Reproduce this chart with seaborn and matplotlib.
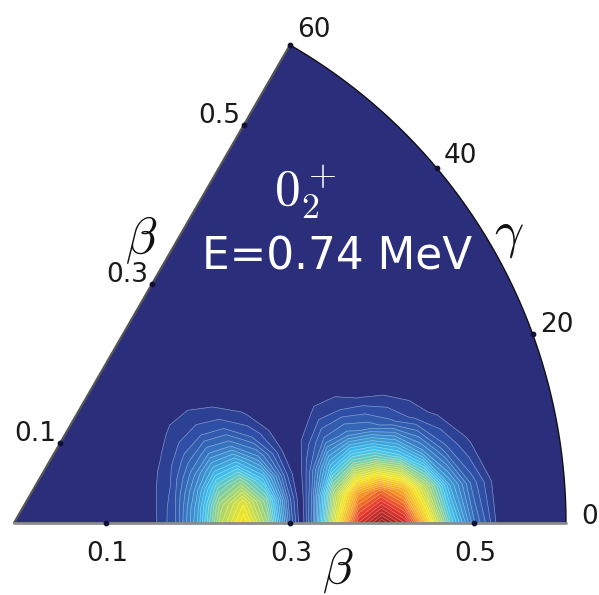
import numpy as np
import matplotlib
matplotlib.use('Agg')
import matplotlib.pyplot as plt
from matplotlib.patches import Wedge
from matplotlib.colors import LinearSegmentedColormap
import seaborn as sns

# deformation grid: beta values and gamma (degrees)
beta = [0.125, 0.15, 0.175, 0.2, 0.225, 0.25, 0.275, 0.3, 0.3125, 0.325,
        0.35, 0.375, 0.4, 0.425, 0.45, 0.475, 0.5, 0.525, 0.55]
gamma = [0, 5, 10, 15, 20, 25, 30, 35, 40, 45]

# collective wave function density (% of maximum), one row per gamma
dens_g0 = [0, 1.3, 7.0, 23.0, 47.0, 60.0, 43.0, 10.0, 0, 12.0, 55.0, 88.0, 100.0, 90.0, 62.0, 32.0, 13.0, 2.0, 0.5]
dens_g5 = [0, 1.3, 6.7, 21.6, 43.5, 54.5, 38.3, 8.7, 0, 10.2, 45.7, 71.1, 78.4, 68.4, 45.6, 22.7, 8.9, 1.3, 0.3]
dens_g10 = [0, 1.1, 5.8, 18.1, 34.6, 41.2, 27.3, 5.8, 0, 6.3, 26.3, 37.7, 38.1, 30.3, 18.3, 8.2, 2.9, 0.4, 0.1]
dens_g15 = [0, 1.0, 4.6, 13.5, 23.8, 26.0, 15.6, 3.0, 0, 2.9, 10.7, 13.4, 11.7, 8.0, 4.1, 1.6, 0.5, 0.1, 0]
dens_g20 = [0, 0.8, 3.4, 9.0, 14.4, 13.9, 7.3, 1.2, 0, 1.0, 3.1, 3.3, 2.4, 1.3, 0.5, 0.2, 0, 0, 0]
dens_g25 = [0, 0.6, 2.3, 5.5, 7.7, 6.4, 2.9, 0.4, 0, 0.3, 0.7, 0.6, 0.3, 0.1, 0, 0, 0, 0, 0]
dens_g30 = [0, 0.4, 1.5, 3.1, 3.7, 2.6, 1.0, 0.1, 0, 0, 0.1, 0, 0, 0, 0, 0, 0, 0, 0]
dens_g35 = [0, 0.3, 0.9, 1.7, 1.7, 1.0, 0.3, 0, 0, 0, 0, 0, 0, 0, 0, 0, 0, 0, 0]
dens_g40 = [0, 0, 0.6, 0.8, 0.7, 0.3, 0, 0, 0, 0, 0, 0, 0, 0, 0, 0, 0, 0, 0]
dens_g45 = [0] * 19

beta_ticks = [0.1, 0.3, 0.5]
gamma_ticks = [0, 20, 40, 60]
beta_max = 0.6

density = np.array([dens_g0, dens_g5, dens_g10, dens_g15, dens_g20,
                    dens_g25, dens_g30, dens_g35, dens_g40, dens_g45])

sns.set_style('white')
plt.rcParams['mathtext.fontset'] = 'cm'

# escala tipo "jet" impresa
colores = ['#2b2e7b', '#2f4ea6', '#3a7fc6', '#3fc3ef', '#a9d56c',
           '#f3e71f', '#f6a11f', '#e3322b', '#951b1e']
posiciones = [0.0, 0.06, 0.16, 0.30, 0.45, 0.58, 0.72, 0.86, 1.0]
cmap = LinearSegmentedColormap.from_list('jet_print', list(zip(posiciones, colores)))

W, H = 599, 595
x0, y0, escala = 14, 523, 920  # pixel del origen y pixeles por unidad de beta

fig = plt.figure(figsize=(W / 100, H / 100), dpi=100)
ax = fig.add_axes([0, 0, 1, 1])
ax.set_xlim(-x0 / escala, (W - x0) / escala)
ax.set_ylim((y0 - H) / escala, y0 / escala)
ax.set_axis_off()

# fondo del sector 0-60 grados
ax.add_patch(Wedge((0, 0), beta_max, 0, 60, facecolor=colores[0], edgecolor='none', zorder=0))

B, G = np.meshgrid(beta, np.radians(gamma))
X = B * np.cos(G)
Y = B * np.sin(G)
niveles = np.arange(2.5, 100.1, 2.5)
ax.contourf(X, Y, density, levels=niveles, cmap=cmap, vmin=0, vmax=100, zorder=1)
ax.contour(X, Y, density, levels=niveles, colors='white', linewidths=0.5, alpha=0.4, zorder=2)

# bordes del sector
t = np.radians(np.linspace(0, 60, 200))
ax.plot(beta_max * np.cos(t), beta_max * np.sin(t), color='#111111', lw=1.0, zorder=3)
g60 = np.radians(60)
ax.plot([0, beta_max * np.cos(g60)], [0, beta_max * np.sin(g60)], color='#555555', lw=1.6, zorder=3)
ax.plot([0, beta_max], [0, 0], color='#8c8c8c', lw=2.0, zorder=3)

# marcas y etiquetas de beta en ambos bordes
bt = np.array(beta_ticks)
ax.scatter(bt, np.zeros_like(bt), s=10, color='#111133', zorder=4)
ax.scatter(bt * np.cos(g60), bt * np.sin(g60), s=10, color='#111133', zorder=4)
for b in beta_ticks:
    ax.annotate(f'{b:.1f}', xy=(b, 0), xytext=(1, -38), textcoords='offset pixels',
                ha='center', va='baseline', fontsize=19, color='#1a1a1a')
    ax.annotate(f'{b:.1f}', xy=(b * np.cos(g60), b * np.sin(g60)), xytext=(-25, 2),
                textcoords='offset pixels', ha='center', va='baseline', fontsize=19, color='#1a1a1a')

# marcas y etiquetas de gamma sobre el arco
for g in gamma_ticks:
    gr = np.radians(g)
    px, py = beta_max * np.cos(gr), beta_max * np.sin(gr)
    if g > 0:
        ax.scatter([px], [py], s=10, color='#111133', zorder=4)
    ax.annotate(str(g), xy=(px, py), xytext=(24, -1 + 10 * np.sin(gr)), textcoords='offset pixels',
                ha='center', va='baseline', fontsize=19, color='#1a1a1a')

# titulos
fig.text(305 / W, 1 - 192 / H, r'$0_2^+$', color='white', fontsize=37, ha='center', va='center')
fig.text(337 / W, 1 - 270 / H, 'E=0.74 MeV', color='white', fontsize=31.5, ha='center', va='baseline')
fig.text(141 / W, 1 - 240 / H, r'$\beta$', color='#111111', fontsize=37, ha='center', va='center')
fig.text(338 / W, 1 - 570 / H, r'$\beta$', color='#111111', fontsize=36, ha='center', va='center')
fig.text(509 / W, 1 - 235 / H, r'$\gamma$', color='#111111', fontsize=37, ha='center', va='center')

fig.savefig('out.png', dpi=100)
